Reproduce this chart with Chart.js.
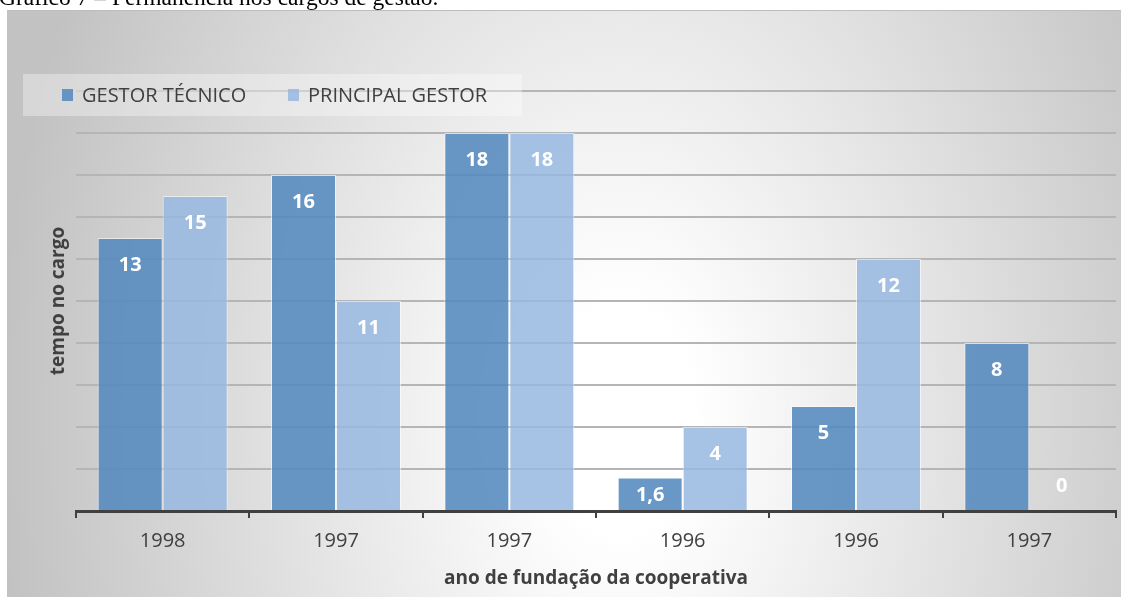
<!DOCTYPE html>
<html>
<head>
<meta charset="utf-8">
<script src="https://cdn.jsdelivr.net/npm/chart.js@4"></script>
<style>
    body { margin: 0; background: #fff; overflow: hidden; }
    .wrap { position: relative; width: 1131px; height: 597px; }
    .caption {
        position: absolute; left: -1px; top: -14px; z-index: 2;
        font-family: "Liberation Serif", "Times New Roman", serif;
        font-size: 23.5px; line-height: 23.5px; color: #000; white-space: nowrap;
    }
    canvas { position: absolute; left: 0; top: 0; }
</style>
</head>
<body>
<div class="wrap">
    <div class="caption">Gráfico 7 – Permanência nos cargos de gestão.</div>
    <canvas id="barChart" width="1131" height="597"></canvas>
</div>
<script>
const categories = ['1998', '1997', '1997', '1996', '1996', '1997'];
const seriesNames = ['GESTOR TÉCNICO', 'PRINCIPAL GESTOR'];
// bar heights as drawn in the picture
const gestorTecnico = [13, 16, 18, 1.6, 5, 8];
const principalGestor = [15, 10, 18, 4, 12, 0];
// value labels as printed on the bars (second bar of 1997 is labelled 11)
const gestorTecnicoLabels = ['13', '16', '18', '1,6', '5', '8'];
const principalGestorLabels = ['15', '11', '18', '4', '12', '0'];
const yTicks = [0, 2, 4, 6, 8, 10, 12, 14, 16, 18, 20];

const darkBlue = 'rgba(84, 138, 191, 0.88)';
const lightBlue = 'rgba(150, 184, 224, 0.85)';
const textGray = '#404040';

// gradient frame behind the chart
const frameBg = {
    id: 'frameBg',
    beforeDraw(chart) {
        const ctx = chart.ctx;
        ctx.save();
        ctx.beginPath();
        ctx.rect(7, 10, 1114, 600);
        ctx.clip();
        ctx.translate(620, 420);
        ctx.scale(1, 1.5);
        const g = ctx.createRadialGradient(0, 0, 0, 0, 0, 620);
        g.addColorStop(0, '#ffffff');
        g.addColorStop(0.12, '#ffffff');
        g.addColorStop(1, '#c2c2c2');
        ctx.fillStyle = g;
        ctx.fillRect(-700, -300, 1400, 500);
        ctx.restore();
        ctx.save();
        ctx.strokeStyle = '#bdbdbd';
        ctx.lineWidth = 1;
        ctx.beginPath();
        ctx.moveTo(7, 10.5);
        ctx.lineTo(1121, 10.5);
        ctx.stroke();
        ctx.restore();
    }
};

// legend box + value labels
const extras = {
    id: 'extras',
    afterDatasetsDraw(chart) {
        const ctx = chart.ctx;
        ctx.save();
        ctx.fillStyle = 'rgba(255, 255, 255, 0.35)';
        ctx.fillRect(23, 74, 499, 42);
        ctx.font = '20px "Open Sans"';
        ctx.textBaseline = 'middle';
        ctx.textAlign = 'left';
        const legendX = [62, 288];
        chart.data.datasets.forEach((ds, i) => {
            ctx.fillStyle = ds.backgroundColor;
            ctx.fillRect(legendX[i], 89, 11, 12);
            ctx.fillStyle = textGray;
            ctx.fillText(ds.label, legendX[i] + 20, 96);
        });

        ctx.font = 'bold 20px "Open Sans"';
        ctx.fillStyle = '#ffffff';
        ctx.textAlign = 'center';
        chart.data.datasets.forEach((ds, i) => {
            const meta = chart.getDatasetMeta(i);
            meta.data.forEach((bar, j) => {
                const v = ds.data[j];
                let y = bar.y + 27.5;
                if (v === 0) y = bar.base - 25;
                else y = Math.min(y, bar.base - 15);
                ctx.fillText(ds.valueLabels[j], bar.x, y);
            });
        });
        ctx.restore();
    }
};

const barCtx = document.getElementById('barChart').getContext('2d');
const barChart = new Chart(barCtx, {
    type: 'bar',
    data: {
        labels: categories,
        datasets: [
            {
                label: seriesNames[0],
                data: gestorTecnico,
                valueLabels: gestorTecnicoLabels,
                backgroundColor: darkBlue,
                borderColor: 'rgba(255, 255, 255, 0.55)',
                borderWidth: 1,
            },
            {
                label: seriesNames[1],
                data: principalGestor,
                valueLabels: principalGestorLabels,
                backgroundColor: lightBlue,
                borderColor: 'rgba(255, 255, 255, 0.55)',
                borderWidth: 1,
            }
        ]
    },
    options: {
        responsive: false,
        animation: false,
        layout: {
            padding: { left: 0, right: 15, top: 91, bottom: 0 }
        },
        datasets: {
            bar: { categoryPercentage: 0.75, barPercentage: 1 }
        },
        scales: {
            x: {
                afterFit: scale => { scale.height = 86; },
                grid: {
                    display: true,
                    drawOnChartArea: false,
                    drawTicks: true,
                    tickLength: 7,
                    color: textGray,
                    lineWidth: 2,
                },
                border: { display: true, color: textGray, width: 3 },
                ticks: {
                    color: textGray,
                    padding: 11,
                    font: { family: 'Open Sans', size: 20 }
                },
                title: {
                    display: true,
                    text: 'ano de fundação da cooperativa',
                    color: textGray,
                    padding: { top: 0, bottom: 7 },
                    font: { family: 'Open Sans', size: 19, weight: 'bold' }
                }
            },
            y: {
                min: 0,
                max: 20,
                afterFit: scale => { scale.width = 76; },
                afterBuildTicks: scale => { scale.ticks = yTicks.map(v => ({ value: v })); },
                grid: {
                    color: '#b5b5b5',
                    lineWidth: 2,
                    drawTicks: false,
                },
                border: { display: false },
                ticks: { display: false },
                title: {
                    display: true,
                    text: 'tempo no cargo',
                    color: textGray,
                    padding: { top: 47, bottom: 0 },
                    font: { family: 'Open Sans', size: 19, weight: 'bold' }
                }
            }
        },
        plugins: {
            legend: { display: false },
            tooltip: { enabled: false }
        }
    },
    plugins: [frameBg, extras]
});
</script>
</body>
</html>
